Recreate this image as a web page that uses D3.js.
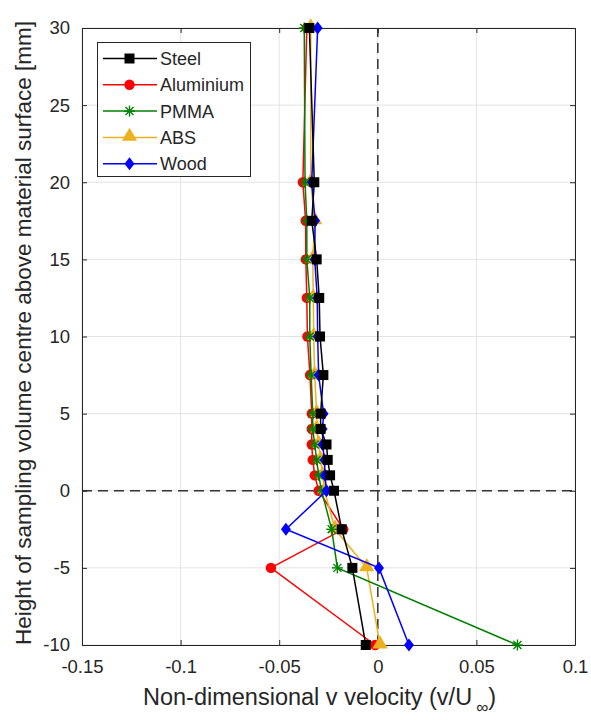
<!DOCTYPE html>
<html>
<head>
<meta charset="utf-8">
<script src="https://cdn.jsdelivr.net/npm/d3@7"></script>
<style>
  body { margin: 0; background: #fff; }
  svg { font-family: Helvetica, Arial, "Liberation Sans", sans-serif; }
</style>
</head>
<body>
<div class="graph"></div>
<script>
// heights above the surface [mm], same for every material
let heights = [30, 20, 17.5, 15, 12.5, 10, 7.5, 5, 4, 3, 2, 1, 0, -2.5, -5, -10]

let steel     = [-0.0347, -0.0322, -0.0335, -0.031, -0.0297, -0.0293, -0.0276, -0.029, -0.029, -0.026, -0.0254, -0.0242, -0.0222, -0.0183, -0.0129, -0.0061]
let aluminium = [-0.036, -0.038, -0.0366, -0.0365, -0.036, -0.0357, -0.0344, -0.0335, -0.0335, -0.0335, -0.033, -0.032, -0.030, -0.0175, -0.0542, -0.0014]
let pmma      = [-0.0373, -0.0369, -0.036, -0.036, -0.0345, -0.0345, -0.0338, -0.033, -0.033, -0.032, -0.031, -0.030, -0.0285, -0.0234, -0.0205, 0.0708]
let abs       = [-0.034, -0.034, -0.032, -0.033, -0.0327, -0.0325, -0.032, -0.031, -0.031, -0.030, -0.029, -0.028, -0.027, -0.0217, -0.0056, 0.0011]
let wood      = [-0.0305, -0.0335, -0.0318, -0.032, -0.0307, -0.0305, -0.030, -0.0275, -0.028, -0.028, -0.027, -0.0268, -0.026, -0.0466, 0.0006, 0.0158]

let xTicks = [-0.15, -0.1, -0.05, 0, 0.05, 0.1]
let yTicks = [-10, -5, 0, 5, 10, 15, 20, 25, 30]

// drawing order (last on top); legend order is separate
let series = [
    { name: 'Aluminium', values: aluminium, color: '#ff0000', marker: 'circle' },
    { name: 'ABS', values: abs, color: '#edb120', marker: 'triangle' },
    { name: 'PMMA', values: pmma, color: '#008000', marker: 'star' },
    { name: 'Wood', values: wood, color: '#0000ff', marker: 'diamond' },
    { name: 'Steel', values: steel, color: '#000000', marker: 'square' }
]
let legendOrder = ['Steel', 'Aluminium', 'PMMA', 'ABS', 'Wood']

let width = 591,
    height = 720
let margin = { left: 82, right: 16, top: 28, bottom: 75 }
let ink = '#262626'

let x = d3.scaleLinear().domain([-0.15, 0.1]).range([margin.left, width - margin.right])
let y = d3.scaleLinear().domain([-10, 30]).range([height - margin.bottom, margin.top])

let svg = d3.select('.graph').append('svg')
    .attr('width', width)
    .attr('height', height)

// grid
let grid = svg.append('g').attr('stroke', '#e3e3e3').attr('stroke-width', 1)
xTicks.forEach(function(t) {
    grid.append('line').attr('x1', x(t)).attr('x2', x(t)).attr('y1', y(-10)).attr('y2', y(30))
})
yTicks.forEach(function(t) {
    grid.append('line').attr('y1', y(t)).attr('y2', y(t)).attr('x1', x(-0.15)).attr('x2', x(0.1))
})

// zero lines (dashed)
svg.append('line')
    .attr('x1', x(0)).attr('x2', x(0)).attr('y1', y(-10)).attr('y2', y(30))
    .attr('stroke', '#333').attr('stroke-width', 1.5).attr('stroke-dasharray', '10,6')
svg.append('line')
    .attr('x1', x(-0.15)).attr('x2', x(0.1)).attr('y1', y(0)).attr('y2', y(0))
    .attr('stroke', '#333').attr('stroke-width', 1.5).attr('stroke-dasharray', '10,6')

// axes, plain hyphen minus like MATLAB
let plain = function(d) { return String(+d.toFixed(2)) }
let xAxis = d3.axisBottom(x).tickValues(xTicks).tickSizeInner(-5).tickSizeOuter(0).tickPadding(15).tickFormat(plain)
let yAxis = d3.axisLeft(y).tickValues(yTicks).tickSizeInner(-5).tickSizeOuter(0).tickPadding(12).tickFormat(plain)

let gx = svg.append('g').attr('transform', 'translate(0,' + y(-10) + ')').call(xAxis)
let gy = svg.append('g').attr('transform', 'translate(' + x(-0.15) + ',0)').call(yAxis)
let gxTop = svg.append('g').attr('transform', 'translate(0,' + y(30) + ')')
    .call(d3.axisTop(x).tickValues(xTicks).tickSizeInner(-5).tickSizeOuter(0).tickFormat(''))
let gyRight = svg.append('g').attr('transform', 'translate(' + x(0.1) + ',0)')
    .call(d3.axisRight(y).tickValues(yTicks).tickSizeInner(-5).tickSizeOuter(0).tickFormat(''))

;[gx, gy, gxTop, gyRight].forEach(function(g) {
    g.select('.domain').attr('stroke', ink).attr('stroke-width', 1)
    g.selectAll('.tick line').attr('stroke', ink)
    g.selectAll('.tick text').attr('fill', ink).style('font-size', '18.5px')
})

// markers
function drawMarker(g, type, color, cx, cy) {
    if (type === 'square') {
        g.append('rect').attr('x', cx - 5).attr('y', cy - 5).attr('width', 10).attr('height', 10).attr('fill', color)
    } else if (type === 'circle') {
        g.append('circle').attr('cx', cx).attr('cy', cy).attr('r', 5.2).attr('fill', color)
    } else if (type === 'triangle') {
        g.append('path').attr('d', d3.symbol(d3.symbolTriangle, 100)()).attr('transform', 'translate(' + cx + ',' + (cy - 1) + ')').attr('fill', color)
    } else if (type === 'diamond') {
        g.append('path').attr('d', 'M0,-6.5L5,0L0,6.5L-5,0Z').attr('transform', 'translate(' + cx + ',' + cy + ')').attr('fill', color)
    } else if (type === 'star') {
        let s = g.append('g').attr('transform', 'translate(' + cx + ',' + cy + ')').attr('stroke', color).attr('stroke-width', 1.4)
        s.append('line').attr('x1', -5.5).attr('x2', 5.5)
        s.append('line').attr('y1', -5.5).attr('y2', 5.5)
        s.append('line').attr('x1', -4).attr('x2', 4).attr('y1', -4).attr('y2', 4)
        s.append('line').attr('x1', -4).attr('x2', 4).attr('y1', 4).attr('y2', -4)
    }
}

let line = d3.line()
    .x(function(d) { return x(d[0]) })
    .y(function(d) { return y(d[1]) })

let plot = svg.append('g')
series.forEach(function(s) {
    let pts = s.values.map(function(v, i) { return [v, heights[i]] })
    let g = plot.append('g')
    g.append('path').datum(pts).attr('d', line).attr('fill', 'none').attr('stroke', s.color).attr('stroke-width', 1.5)
    pts.forEach(function(p) { drawMarker(g, s.marker, s.color, x(p[0]), y(p[1])) })
})

// legend
let leg = svg.append('g')
leg.append('rect').attr('x', 97.5).attr('y', 42.5).attr('width', 153).attr('height', 134)
    .attr('fill', '#fff').attr('stroke', ink).attr('stroke-width', 1)
legendOrder.forEach(function(name, i) {
    let s = series.find(function(d) { return d.name === name })
    let ly = 58.5 + i * 26.3
    leg.append('line').attr('x1', 103).attr('x2', 157).attr('y1', ly).attr('y2', ly).attr('stroke', s.color).attr('stroke-width', 1.5)
    drawMarker(leg, s.marker, s.color, 129.5, ly)
    leg.append('text').attr('x', 160).attr('y', ly + 6.5).text(name)
        .attr('fill', ink).style('font-size', '18px')
})

// axis labels
svg.append('text')
    .attr('transform', 'translate(31,333) rotate(-90)')
    .attr('text-anchor', 'middle')
    .attr('fill', ink)
    .style('font-size', '22.5px')
    .text('Height of sampling volume centre above material surface [mm]')

let xl = svg.append('text')
    .attr('x', 143).attr('y', 705)
    .attr('fill', ink)
    .style('font-size', '23.5px')
xl.append('tspan').text('Non-dimensional v velocity (v/U')
xl.append('tspan').attr('dx', 4).attr('dy', 8).style('font-size', '17px').text('\u221e')
xl.append('tspan').attr('dy', -8).text(')')
</script>
</body>
</html>
